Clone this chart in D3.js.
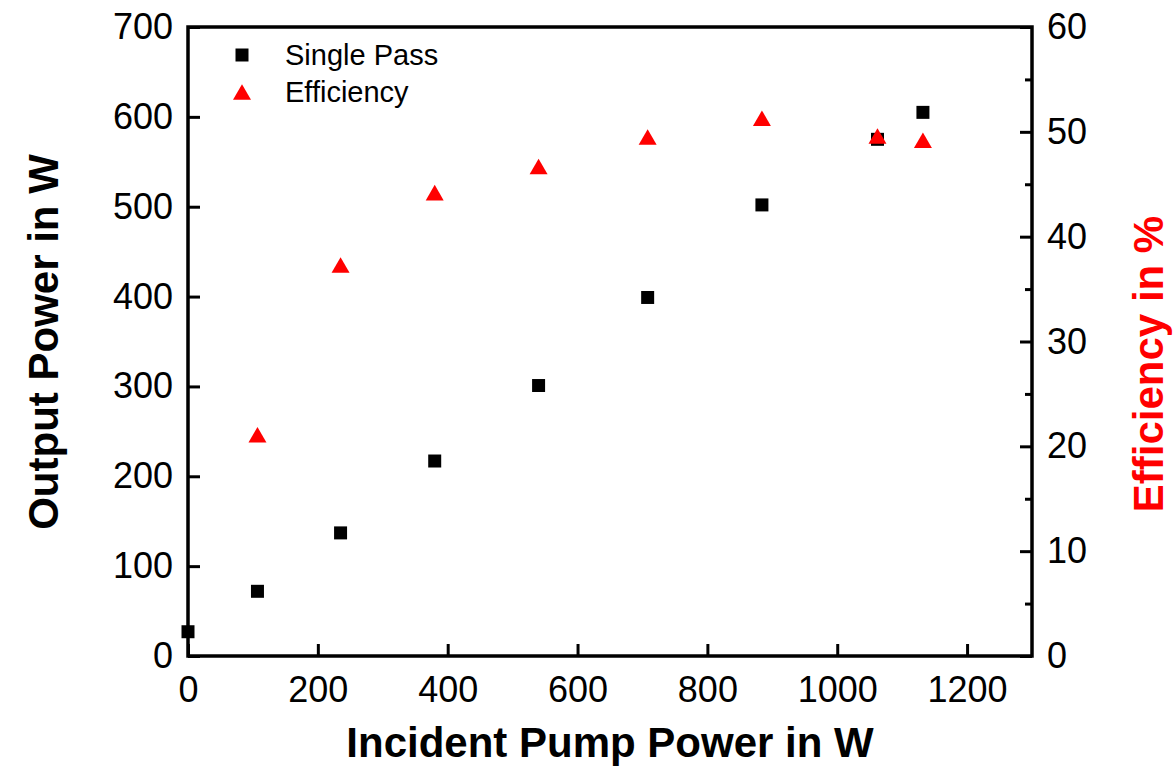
<!DOCTYPE html>
<head>
    <title>Pump power</title>
    <script src="https://cdnjs.cloudflare.com/ajax/libs/d3/7.8.5/d3.min.js"></script>
    <style>
        body { margin: 0; background: #fff; }
        text { font-family: "Liberation Sans", Arial, sans-serif; }
    </style>
</head>
<body>
    <div id="chart"></div>
    <script type="text/javascript">
        // data
        const pumpPower = [0, 107, 235, 380, 540, 708, 884, 1062, 1132];
        const singlePass = [27, 72, 137, 217, 301, 399, 502, 575, 605];
        const effPump = [107, 235, 380, 540, 708, 884, 1062, 1132];
        const efficiency = [21.1, 37.3, 44.2, 46.7, 49.5, 51.3, 49.6, 49.2];

        const xTicks = [0, 200, 400, 600, 800, 1000, 1200];
        const yLeftTicks = [0, 100, 200, 300, 400, 500, 600, 700];
        const yRightTicks = [0, 10, 20, 30, 40, 50, 60];
        const yRightMinor = [5, 15, 25, 35, 45, 55];

        const width = 1173;
        const height = 768;
        const marginLeft = 188;
        const marginTop = 27;
        const marginRight = 141;
        const marginBottom = 112;
        const innerW = width - marginLeft - marginRight;
        const innerH = height - marginTop - marginBottom;

        const svg = d3.select("#chart")
            .append("svg")
            .attr("width", width)
            .attr("height", height);

        const g = svg.append("g")
            .attr("transform", "translate(" + marginLeft + "," + marginTop + ")");

        const xScale = d3.scaleLinear().domain([0, 1300]).range([0, innerW]);
        const yLeft = d3.scaleLinear().domain([0, 700]).range([innerH, 0]);
        const yRight = d3.scaleLinear().domain([0, 60]).range([innerH, 0]);

        // markers (drawn first so the frame sits on top)
        const squareSym = d3.symbol().type(d3.symbolSquare).size(169);
        const triSize = 140;
        const triSym = d3.symbol().type(d3.symbolTriangle).size(triSize);
        const triShift = Math.sqrt(triSize / Math.sqrt(3)) * Math.sqrt(3) / 6; // centre bbox

        g.append("g").selectAll("path")
            .data(pumpPower)
            .enter()
            .append("path")
            .attr("d", squareSym)
            .attr("fill", "#000")
            .attr("transform", (d, i) => "translate(" + xScale(d) + "," + yLeft(singlePass[i]) + ")");

        g.append("g").selectAll("path")
            .data(effPump)
            .enter()
            .append("path")
            .attr("d", triSym)
            .attr("fill", "#ff0000")
            .attr("transform", (d, i) => "translate(" + xScale(d) + "," + (yRight(efficiency[i]) + triShift) + ")");

        // axes, ticks pointing inward
        const fmt = d3.format("d");
        const xAxis = d3.axisBottom(xScale).tickValues(xTicks).tickFormat(fmt).tickSize(-12).tickPadding(20);
        const yAxisL = d3.axisLeft(yLeft).tickValues(yLeftTicks).tickFormat(fmt).tickSize(-12).tickPadding(15);
        const yAxisR = d3.axisRight(yRight).tickValues(yRightTicks).tickFormat(fmt).tickSize(-12).tickPadding(15);
        const yAxisRMinor = d3.axisRight(yRight).tickValues(yRightMinor).tickSize(-7).tickFormat("");

        g.append("g").attr("class", "axis x")
            .attr("transform", "translate(0," + innerH + ")")
            .call(xAxis);
        g.append("g").attr("class", "axis yl").call(yAxisL);
        g.append("g").attr("class", "axis yr")
            .attr("transform", "translate(" + innerW + ",0)")
            .call(yAxisR);
        g.append("g").attr("class", "axis yr minor")
            .attr("transform", "translate(" + innerW + ",0)")
            .call(yAxisRMinor);

        g.selectAll(".axis .domain").remove();
        g.selectAll(".axis line").attr("stroke", "#000").attr("stroke-width", 3);
        g.selectAll(".axis text")
            .attr("font-size", 36)
            .attr("fill", "#000");

        // frame
        g.append("rect")
            .attr("x", 0).attr("y", 0)
            .attr("width", innerW).attr("height", innerH)
            .attr("fill", "none")
            .attr("stroke", "#000")
            .attr("stroke-width", 3.5);

        // legend
        const legend = svg.append("g").attr("transform", "translate(242,55)");
        legend.append("path").attr("d", squareSym).attr("fill", "#000");
        legend.append("path").attr("d", triSym).attr("fill", "#ff0000")
            .attr("transform", "translate(0," + (37 + triShift) + ")");
        legend.append("text").attr("x", 43).attr("y", 0).attr("dy", "0.35em")
            .attr("font-size", 29).text("Single Pass");
        legend.append("text").attr("x", 43).attr("y", 37).attr("dy", "0.35em")
            .attr("font-size", 29).text("Efficiency");

        // axis titles
        svg.append("text")
            .attr("x", marginLeft + innerW / 2)
            .attr("y", 757)
            .attr("text-anchor", "middle")
            .attr("font-size", 42)
            .attr("font-weight", "bold")
            .text("Incident Pump Power in W");

        svg.append("text")
            .attr("transform", "translate(58,342) rotate(-90)")
            .attr("text-anchor", "middle")
            .attr("font-size", 42)
            .attr("font-weight", "bold")
            .text("Output Power in W");

        svg.append("text")
            .attr("transform", "translate(1163,364) rotate(-90)")
            .attr("text-anchor", "middle")
            .attr("font-size", 42)
            .attr("font-weight", "bold")
            .attr("fill", "#ff0000")
            .text("Efficiency in %");
    </script>
</body>
